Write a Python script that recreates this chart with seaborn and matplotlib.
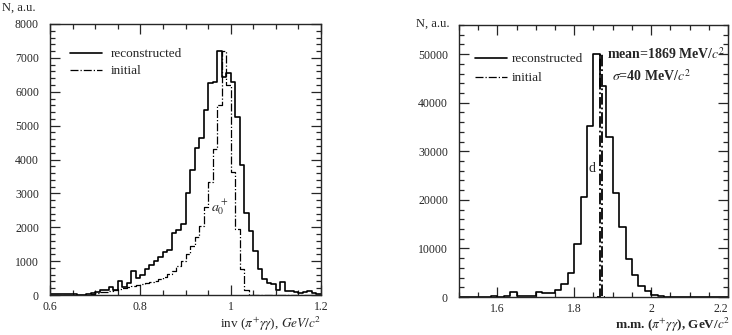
import numpy as np
import pandas as pd
import matplotlib
matplotlib.use("Agg")
import matplotlib.pyplot as plt
import seaborn as sns
from matplotlib.ticker import MultipleLocator
from matplotlib.lines import Line2D

# left panel: inv(pi+ gamma gamma), bins of 0.01 GeV from 0.6 to 1.2
left_edges = np.round(np.arange(0.60, 1.2001, 0.01), 3)
left_reco = [20, 20, 20, 20, 20, 20, 0, 0, 30, 60,
             100, 150, 150, 250, 150, 400, 250, 350, 700, 500,
             580, 760, 880, 1010, 1130, 1280, 1330, 1820, 1920, 2100,
             3020, 3690, 4330, 4620, 5460, 6250, 6300, 7200, 6450, 6560,
             6300, 5260, 3840, 2430, 1900, 1300, 760, 460, 350, 330,
             150, 380, 120, 120, 100, 60, 100, 130, 60, 20]
left_init = [0] * 8 + [10, 30,
             60, 80, 100, 120, 150, 180, 200, 230, 260, 300,
             330, 350, 380, 420, 470, 540, 620, 720, 850, 1000,
             1200, 1450, 1700, 2050, 2600, 3350, 4300, 5600, 7200, 6200,
             3640, 1940, 760, 150] + [0] * 16

# right panel: m.m.(pi+ gamma gamma), bins of 1/60 GeV from 1.5 to 2.2
right_edges = np.linspace(1.5, 2.2, 43)
right_reco = [0, 0, 0, 0, 0, 280, 0, 280, 1030, 280,
              280, 280, 1100, 800, 800, 1450, 2700, 4900, 11000, 20500,
              35300, 50000, 43500, 32900, 21500, 14400, 7850, 4600, 2200, 1170,
              480, 280, 0, 0, 0, 0, 0, 0, 0, 0,
              0, 0]
# initial: one narrow spike at the D mass
right_init_edges = [1.860, 1.8667, 1.8733, 1.880]
right_init = [0, 50000, 0]

sns.set_style("ticks")
plt.rcParams["font.family"] = ["Liberation Serif", "DejaVu Serif"]
plt.rcParams["mathtext.fontset"] = "stix"

fig = plt.figure(figsize=(7.32, 3.35), dpi=100)
ax1 = fig.add_axes([50 / 732, 1 - 295 / 335, 271 / 732, 271 / 335])
ax2 = fig.add_axes([459 / 732, 1 - 297 / 335, 269 / 732, 272 / 335])


def centers(edges):
    e = np.asarray(edges, dtype=float)
    return (e[:-1] + e[1:]) / 2


def draw_hist(ax, edges, vals, ls, lw):
    df = pd.DataFrame({"x": centers(edges), "w": vals})
    sns.histplot(data=df, x="x", weights="w", bins=[float(e) for e in edges],
                 element="step", fill=False, color="black", linestyle=ls,
                 linewidth=lw, ax=ax)


draw_hist(ax1, left_edges, left_reco, "-", 1.2)
draw_hist(ax1, left_edges, left_init, "-.", 0.9)
draw_hist(ax2, right_edges, right_reco, "-", 1.2)
draw_hist(ax2, right_init_edges, right_init, "-.", 1.3)

for ax in (ax1, ax2):
    ax.set_xlabel("")
    ax.set_ylabel("")
    ax.tick_params(which="both", direction="in", top=True, right=True,
                   labelsize=8.5)
    ax.tick_params(axis="y", pad=8)
    ax.tick_params(axis="x", pad=4)
    ax.tick_params(which="major", length=7, width=0.9)
    ax.tick_params(which="minor", length=3.5, width=0.9)
    for s in ax.spines.values():
        s.set_linewidth(1.0)

ax1.set_xlim(0.6, 1.2)
ax1.set_ylim(0, 8000)
ax1.xaxis.set_minor_locator(MultipleLocator(0.05))
ax1.set_xticks([0.6, 0.8, 1.0, 1.2], ["0.6", "0.8", "1", "1.2"])
ax1.yaxis.set_major_locator(MultipleLocator(1000))
ax1.yaxis.set_minor_locator(MultipleLocator(200))

ax2.set_xlim(1.5, 2.2)
ax2.set_ylim(0, 56000)
ax2.xaxis.set_minor_locator(MultipleLocator(0.05))
ax2.set_xticks([1.6, 1.8, 2.0, 2.2], ["1.6", "1.8", "2", "2.2"])
ax2.get_xticklabels()[-1].set_horizontalalignment("right")
ax2.yaxis.set_major_locator(MultipleLocator(10000))
ax2.yaxis.set_minor_locator(MultipleLocator(2000))

# axis titles
fig.text(2 / 732, 1 - 8 / 335, "N, a.u.", fontsize=9, va="center", ha="left")
fig.text(416 / 732, 1 - 24 / 335, "N, a.u.", fontsize=9, va="center", ha="left")
fig.text(321 / 732, 1 - 324 / 335, r"inv ($\pi^{+}\gamma\gamma$), $GeV/c^2$",
         fontsize=9.5, ha="right", va="center")
fig.text(730 / 732, 1 - 325 / 335, r"m.m. ($\pi^{+}\gamma\gamma$), GeV/$c^2$",
         fontsize=9.5, ha="right", va="center", fontweight="bold")

# legends
handles = [Line2D([], [], color="black", lw=1.2, ls="-"),
           Line2D([], [], color="black", lw=0.9, ls="-.")]
ax1.legend(handles, ["reconstructed", "initial"], loc="upper left",
           bbox_to_anchor=(0.03, 0.955), frameon=False, fontsize=9.5,
           handlelength=2.4, handletextpad=0.7, labelspacing=0.35)
ax2.legend(handles, ["reconstructed", "initial"], loc="upper left",
           bbox_to_anchor=(0.015, 0.94), frameon=False, fontsize=9.5,
           handlelength=2.4, handletextpad=0.4, labelspacing=0.5)

# annotations
ax1.text(0.975, 2600, r"$a_0^+$", fontsize=10, ha="center", va="center")
ax2.text(1.847, 26400, "d", fontsize=10, ha="center", va="center")
ax2.text(1.886, 50000, r"mean=1869 MeV/$c^2$", fontsize=10, ha="left",
         va="center", fontweight="bold")
ax2.text(1.898, 45500, r"$\sigma$=40 MeV/$c^2$", fontsize=10, ha="left",
         va="center", fontweight="bold")

fig.savefig("out.png", dpi=100)
